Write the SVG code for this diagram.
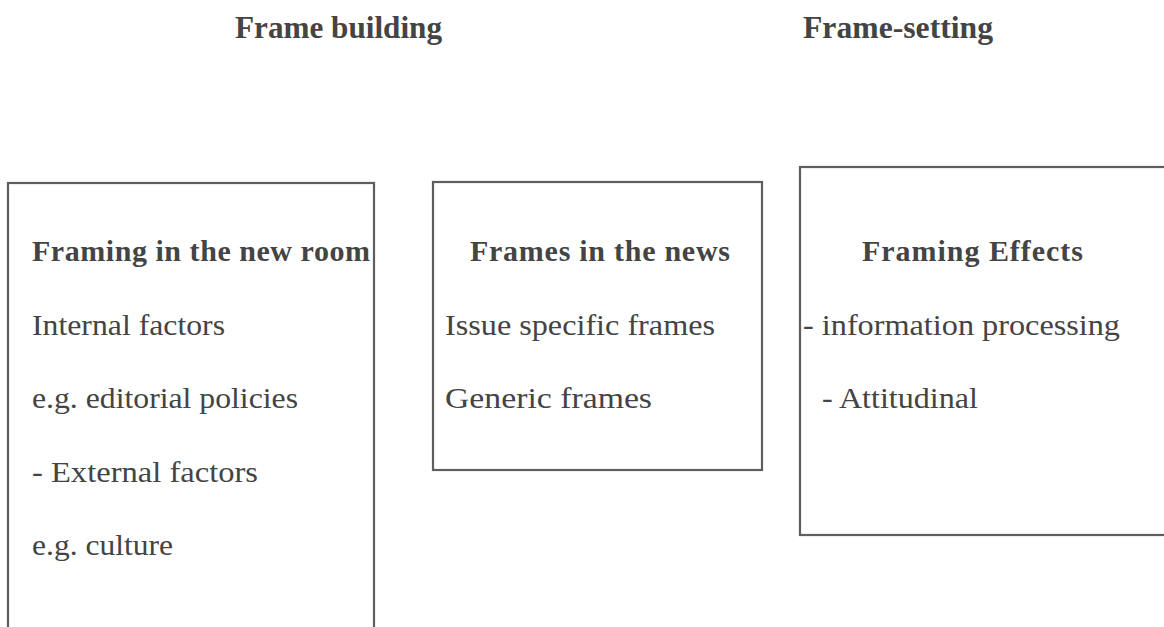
<svg xmlns="http://www.w3.org/2000/svg" width="1164" height="627" viewBox="0 0 1164 627">
  <style>
    .box { fill: none; stroke: #5e5e5e; stroke-width: 2.2; }
    .title { font-family: "Liberation Serif", "Times New Roman", serif; font-weight: bold; font-size: 31px; fill: #444; }
    .head { font-family: "Liberation Serif", "Times New Roman", serif; font-weight: bold; font-size: 30px; fill: #444; }
    .item { font-family: "Liberation Serif", "Times New Roman", serif; font-size: 30px; fill: #444; }
  </style>
  <rect width="1164" height="627" fill="#ffffff"/>
  <g id="titles">
    <text class="title" x="235" y="38" textLength="207" lengthAdjust="spacingAndGlyphs">Frame building</text>
    <text class="title" x="803" y="38" textLength="190" lengthAdjust="spacingAndGlyphs">Frame-setting</text>
  </g>
  <g id="connectors"></g>
  <g id="node-newsroom">
    <rect class="box" x="8" y="183" width="366" height="500"/>
    <text class="head" x="32" y="261" textLength="338" lengthAdjust="spacing">Framing in the new room</text>
    <text class="item" x="32" y="335" textLength="193" lengthAdjust="spacingAndGlyphs">Internal factors</text>
    <text class="item" x="32" y="408" textLength="266" lengthAdjust="spacingAndGlyphs">e.g. editorial policies</text>
    <text class="item" x="32" y="482" textLength="226" lengthAdjust="spacingAndGlyphs">- External factors</text>
    <text class="item" x="32" y="555" textLength="141" lengthAdjust="spacingAndGlyphs">e.g. culture</text>
  </g>
  <g id="node-news">
    <rect class="box" x="433" y="182" width="329" height="288"/>
    <text class="head" x="470" y="261" textLength="260" lengthAdjust="spacing">Frames in the news</text>
    <text class="item" x="445" y="335" textLength="270" lengthAdjust="spacingAndGlyphs">Issue specific frames</text>
    <text class="item" x="445" y="408" textLength="207" lengthAdjust="spacingAndGlyphs">Generic frames</text>
  </g>
  <g id="node-effects">
    <rect class="box" x="800" y="167" width="420" height="368"/>
    <text class="head" x="862" y="261" textLength="221" lengthAdjust="spacing">Framing Effects</text>
    <text class="item" x="803" y="335" textLength="317" lengthAdjust="spacingAndGlyphs">- information processing</text>
    <text class="item" x="822" y="408" textLength="156" lengthAdjust="spacingAndGlyphs">- Attitudinal</text>
  </g>
</svg>
